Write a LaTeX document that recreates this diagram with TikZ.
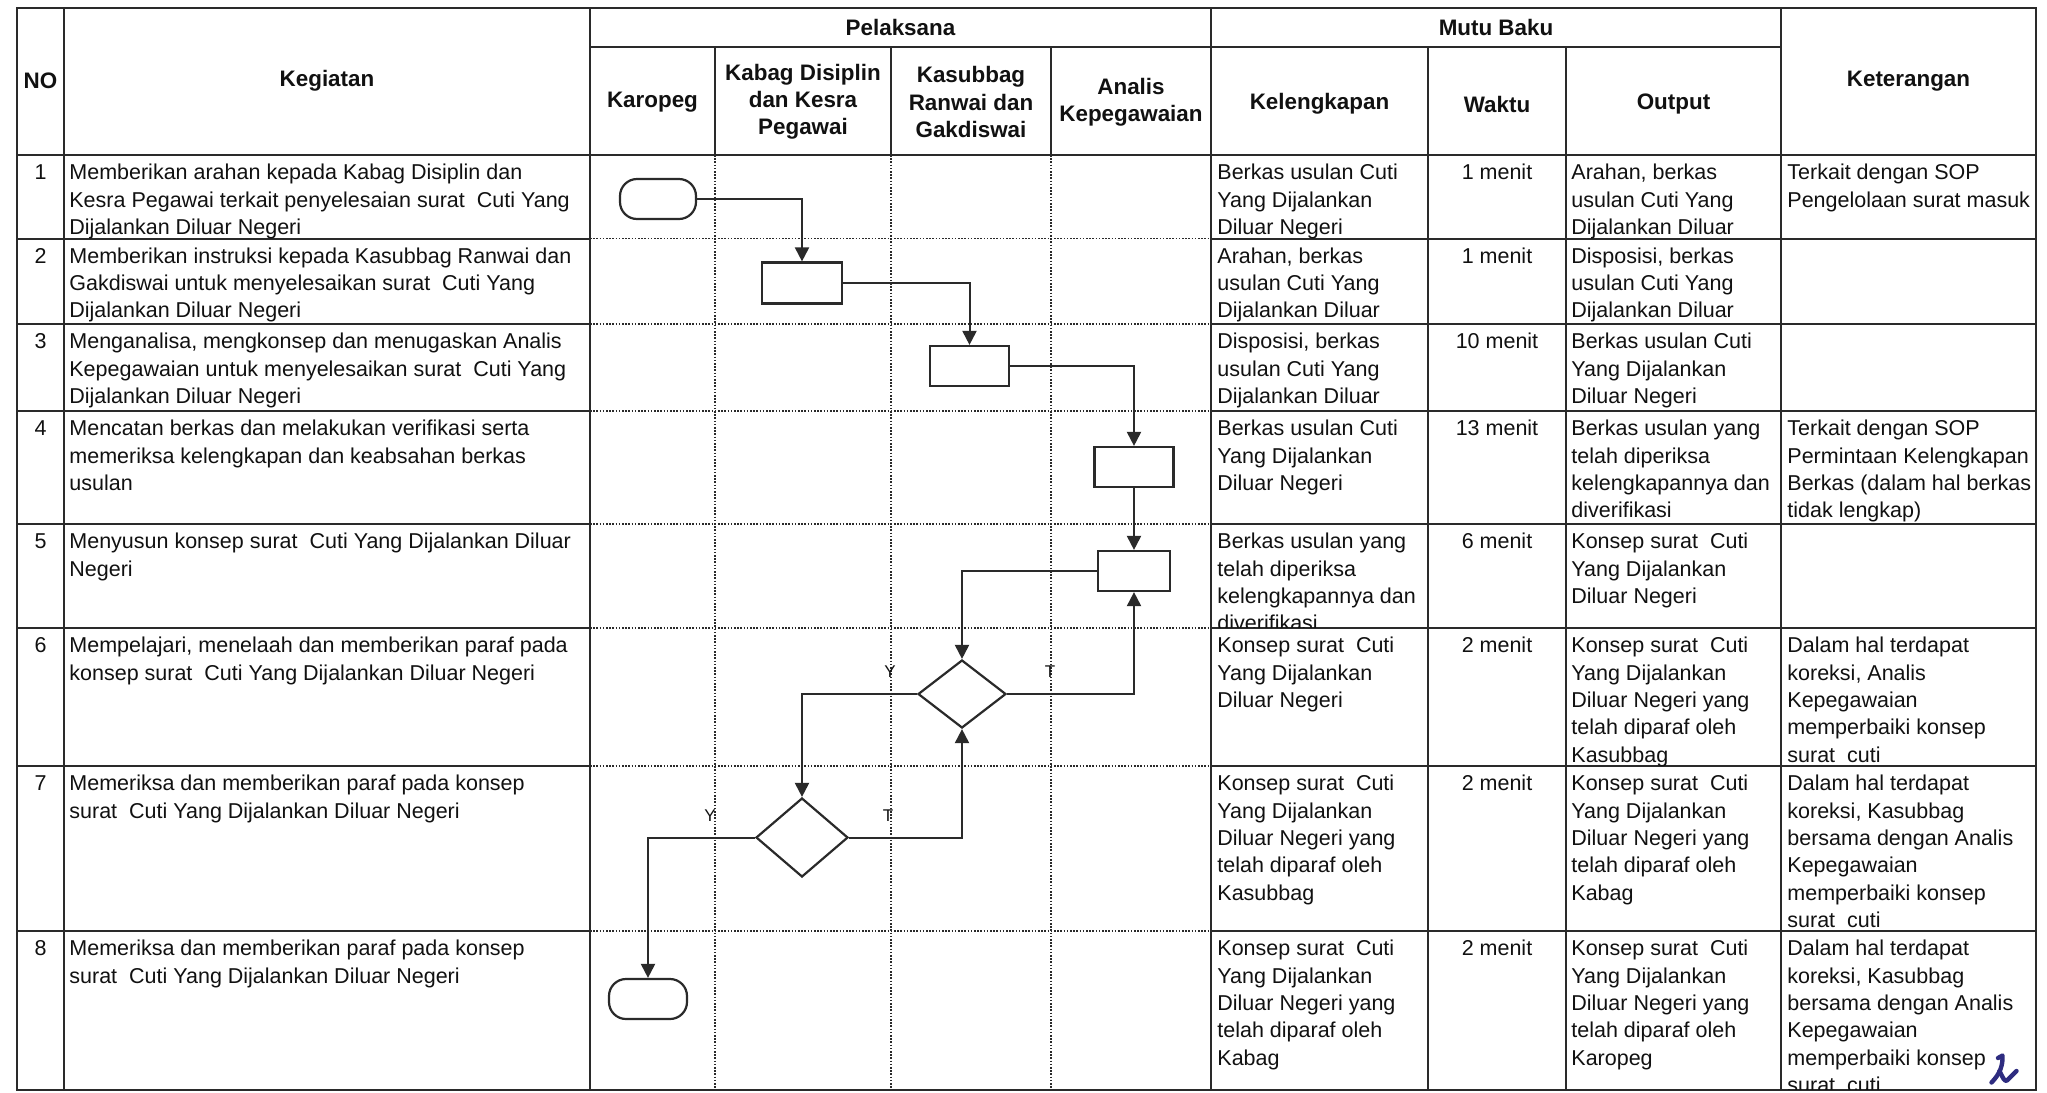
\documentclass[tikz,border=0pt]{standalone}
\usepackage{fontspec}
\setmainfont{Liberation Sans}
\usetikzlibrary{arrows.meta,shapes.geometric}
\definecolor{lc}{HTML}{2A2A2A}
\definecolor{ink}{HTML}{111111}
\definecolor{pen}{HTML}{2E2C80}
\newcommand\bodyfont{\fontsize{10.75}{13.7}\selectfont}
\newcommand\headfont{\fontsize{11.2}{13.6}\selectfont\bfseries}
\newcommand\cellat[4]{\node[cell] (#1) at (#2,{#3+5.1}) {\strut #4};}
\newcommand\ccellat[4]{\node[ccell] (#1) at (#2,{#3+5.1}) {\strut #4};}
\begin{document}
\begin{tikzpicture}[x=0.5pt,y=-0.5pt,
  tl/.style={draw=lc,line width=1pt},
  ol/.style={draw=lc,line width=1.4pt},
  dl/.style={draw=lc,line width=0.8pt,dash pattern=on 0.8pt off 0.8pt},
  cell/.style={anchor=north west,inner sep=0pt,align=left,font=\bodyfont,text=ink},
  ccell/.style={anchor=north,inner sep=0pt,align=center,font=\bodyfont,text=ink},
  head/.style={inner sep=0pt,align=center,font=\headfont,text=ink},
  proc/.style={draw=lc,line width=1.1pt,rectangle,inner sep=0pt,fill=white},
  term/.style={draw=lc,line width=1.1pt,rectangle,rounded corners=8.5pt,inner sep=0pt,minimum width=38pt,minimum height=20pt,fill=white},
  dec/.style={draw=lc,line width=1.1pt,diamond,inner sep=0pt,fill=white},
  conn/.style={draw=lc,line width=1pt,-{Triangle[length=7pt,width=7pt]}},
  yt/.style={inner sep=0pt,font=\fontsize{8.5}{10}\selectfont,text=ink}
]
\fill[white] (0,0) rectangle (2047,1093);
\useasboundingbox (0,0) rectangle (2047,1093);

% ---------- table grid ----------
\foreach \xx in {715,891,1051} {\draw[dl] (\xx,155) -- (\xx,1090);}
\foreach \yy in {238.5,324,411,524,628,766,931} {\draw[dl] (590,\yy) -- (1211,\yy);}
\foreach \yy in {238.5,324,411,524,628,766,931} {
  \draw[tl] (17,\yy) -- (590,\yy);
  \draw[tl] (1211,\yy) -- (2036,\yy);
}
\draw[tl] (590,47) -- (1781,47);
\draw[tl] (17,155) -- (2036,155);
\foreach \xx in {715,891,1051} {\draw[tl] (\xx,47) -- (\xx,155);}
\foreach \xx in {1428,1566} {\draw[tl] (\xx,47) -- (\xx,1090);}
\foreach \xx in {64,590,1211,1781} {\draw[tl] (\xx,8) -- (\xx,1090);}
\draw[ol] (17,8) rectangle (2036,1090);

% ---------- header text ----------
\node[head] (hNO) at (40.5,81) {NO};
\node[head] (hKeg) at (327,81) {Kegiatan};
\node[head] (hPel) at (900.5,27.5) {Pelaksana};
\node[head] (hKar) at (652.5,102) {Karopeg};
\node[head] (hKab) at (803,102) {Kabag Disiplin\\dan Kesra\\Pegawai};
\node[head] (hKas) at (971,102) {Kasubbag\\Ranwai dan\\Gakdiswai};
\node[head] (hAna) at (1131,102) {Analis\\Kepegawaian};
\node[head] (hMutu) at (1496,27.5) {Mutu Baku};
\node[head] (hKel) at (1319.5,104) {Kelengkapan};
\node[head] (hWak) at (1497,104) {Waktu};
\node[head] (hOut) at (1673.5,104) {Output};
\node[head] (hKet) at (1908.5,81) {Keterangan};

% ---------- row 1 ----------
\ccellat{n1}{40.5}{155}{1}
\cellat{g1}{69}{155}{Memberikan arahan kepada Kabag Disiplin dan\\Kesra Pegawai terkait penyelesaian surat\ \ Cuti Yang\\Dijalankan Diluar Negeri}
\cellat{k1}{1217}{155}{Berkas usulan Cuti\\Yang Dijalankan\\Diluar Negeri}
\ccellat{w1}{1497}{155}{1 menit}
\cellat{o1}{1571}{155}{Arahan, berkas\\usulan Cuti Yang\\Dijalankan Diluar}
\cellat{t1}{1787}{155}{Terkait dengan SOP\\Pengelolaan surat masuk}
% ---------- row 2 ----------
\ccellat{n2}{40.5}{238.5}{2}
\cellat{g2}{69}{238.5}{Memberikan instruksi kepada Kasubbag Ranwai dan\\Gakdiswai untuk menyelesaikan surat\ \ Cuti Yang\\Dijalankan Diluar Negeri}
\cellat{k2}{1217}{238.5}{Arahan, berkas\\usulan Cuti Yang\\Dijalankan Diluar}
\ccellat{w2}{1497}{238.5}{1 menit}
\cellat{o2}{1571}{238.5}{Disposisi, berkas\\usulan Cuti Yang\\Dijalankan Diluar}
% ---------- row 3 ----------
\ccellat{n3}{40.5}{324}{3}
\cellat{g3}{69}{324}{Menganalisa, mengkonsep dan menugaskan Analis\\Kepegawaian untuk menyelesaikan surat\ \ Cuti Yang\\Dijalankan Diluar Negeri}
\cellat{k3}{1217}{324}{Disposisi, berkas\\usulan Cuti Yang\\Dijalankan Diluar}
\ccellat{w3}{1497}{324}{10 menit}
\cellat{o3}{1571}{324}{Berkas usulan Cuti\\Yang Dijalankan\\Diluar Negeri}
% ---------- row 4 ----------
\ccellat{n4}{40.5}{411}{4}
\cellat{g4}{69}{411}{Mencatan berkas dan melakukan verifikasi serta\\memeriksa kelengkapan dan keabsahan berkas\\usulan}
\cellat{k4}{1217}{411}{Berkas usulan Cuti\\Yang Dijalankan\\Diluar Negeri}
\ccellat{w4}{1497}{411}{13 menit}
\cellat{o4}{1571}{411}{Berkas usulan yang\\telah diperiksa\\kelengkapannya dan\\diverifikasi}
\cellat{t4}{1787}{411}{Terkait dengan SOP\\Permintaan Kelengkapan\\Berkas (dalam hal berkas\\tidak lengkap)}
% ---------- row 5 ----------
\ccellat{n5}{40.5}{524}{5}
\cellat{g5}{69}{524}{Menyusun konsep surat\ \ Cuti Yang Dijalankan Diluar\\Negeri}
\begin{scope}
\clip (1212,525) rectangle (1427,627);
\cellat{k5}{1217}{524}{Berkas usulan yang\\telah diperiksa\\kelengkapannya dan\\diverifikasi}
\end{scope}
\ccellat{w5}{1497}{524}{6 menit}
\cellat{o5}{1571}{524}{Konsep surat\ \ Cuti\\Yang Dijalankan\\Diluar Negeri}
% ---------- row 6 ----------
\ccellat{n6}{40.5}{628}{6}
\cellat{g6}{69}{628}{Mempelajari, menelaah dan memberikan paraf pada\\konsep surat\ \ Cuti Yang Dijalankan Diluar Negeri}
\cellat{k6}{1217}{628}{Konsep surat\ \ Cuti\\Yang Dijalankan\\Diluar Negeri}
\ccellat{w6}{1497}{628}{2 menit}
\cellat{o6}{1571}{628}{Konsep surat\ \ Cuti\\Yang Dijalankan\\Diluar Negeri yang\\telah diparaf oleh\\Kasubbag}
\cellat{t6}{1787}{628}{Dalam hal terdapat\\koreksi, Analis\\Kepegawaian\\memperbaiki konsep\\surat\ \ cuti}
% ---------- row 7 ----------
\ccellat{n7}{40.5}{766}{7}
\cellat{g7}{69}{766}{Memeriksa dan memberikan paraf pada konsep\\surat\ \ Cuti Yang Dijalankan Diluar Negeri}
\cellat{k7}{1217}{766}{Konsep surat\ \ Cuti\\Yang Dijalankan\\Diluar Negeri yang\\telah diparaf oleh\\Kasubbag}
\ccellat{w7}{1497}{766}{2 menit}
\cellat{o7}{1571}{766}{Konsep surat\ \ Cuti\\Yang Dijalankan\\Diluar Negeri yang\\telah diparaf oleh\\Kabag}
\cellat{t7}{1787}{766}{Dalam hal terdapat\\koreksi, Kasubbag\\bersama dengan Analis\\Kepegawaian\\memperbaiki konsep\\surat\ \ cuti}
% ---------- row 8 ----------
\ccellat{n8}{40.5}{931}{8}
\cellat{g8}{69}{931}{Memeriksa dan memberikan paraf pada konsep\\surat\ \ Cuti Yang Dijalankan Diluar Negeri}
\cellat{k8}{1217}{931}{Konsep surat\ \ Cuti\\Yang Dijalankan\\Diluar Negeri yang\\telah diparaf oleh\\Kabag}
\ccellat{w8}{1497}{931}{2 menit}
\cellat{o8}{1571}{931}{Konsep surat\ \ Cuti\\Yang Dijalankan\\Diluar Negeri yang\\telah diparaf oleh\\Karopeg}
\begin{scope}
\clip (1782,932) rectangle (2035,1089);
\cellat{t8}{1787}{931}{Dalam hal terdapat\\koreksi, Kasubbag\\bersama dengan Analis\\Kepegawaian\\memperbaiki konsep\\surat\ \ cuti}
\end{scope}

% ---------- flowchart ----------
\node[term] (start) at (658,199) {};
\node[proc,minimum width=40pt,minimum height=20.5pt] (b2) at (802,283) {};
\node[proc,minimum width=39.5pt,minimum height=20pt] (b3) at (969.5,366) {};
\node[proc,minimum width=39.5pt,minimum height=20pt] (b4) at (1134,467) {};
\node[proc,minimum width=36pt,minimum height=20pt] (b5) at (1134,571) {};
\node[dec,minimum width=44pt,minimum height=34pt] (d1) at (962,694) {};
\node[dec,minimum width=46pt,minimum height=39.5pt] (d2) at (802,837.5) {};
\node[term,minimum width=39pt] (end) at (648,999) {};

\draw[conn] (start.east) -| (b2.north);
\draw[conn] (b2.east) -| (b3.north);
\draw[conn] (b3.east) -| (b4.north);
\draw[conn] (b4.south) -- (b5.north);
\draw[conn] (b5.west) -| (d1.north);
\draw[conn] (d1.east) -| (b5.south);
\draw[conn] (d1.west) -| (d2.north);
\draw[conn] (d2.east) -| (d1.south);
\draw[conn] (d2.west) -| (end.north);

\node[yt] (y1) at (890,672) {Y};
\node[yt] (t1l) at (1050,672) {T};
\node[yt] (y2) at (710,816) {Y};
\node[yt] (t2l) at (888,816) {T};

% ---------- handwritten paraf ----------
\draw[pen,line width=2.2pt,line cap=round,line join=round]
  (1998,1058) -- (2002.5,1055.5) .. controls (2003,1065) and (2000,1074) .. (1991.5,1082.5);
\draw[pen,line width=2.2pt,line cap=round,line join=round]
  (1999.5,1071) .. controls (2003,1078) and (2004.5,1082) .. (2007,1080.5) -- (2016.5,1071);
\end{tikzpicture}
\end{document}
